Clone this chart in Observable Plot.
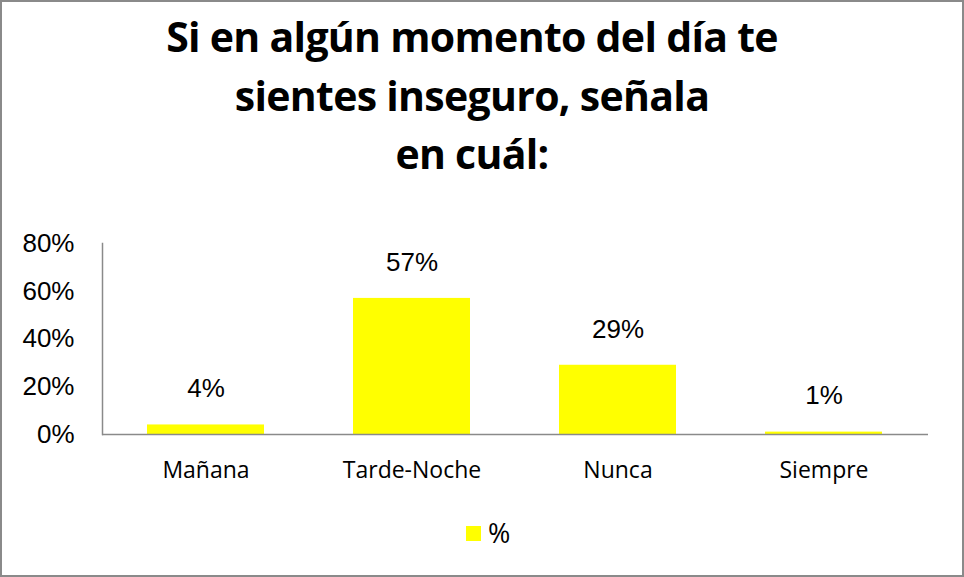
<!DOCTYPE html>
<html>
<head>
<meta charset="utf-8">
<script src="https://cdn.jsdelivr.net/npm/d3@7"></script>
<script src="https://cdn.jsdelivr.net/npm/@observablehq/plot@0.6"></script>
<style>
  html, body { margin: 0; padding: 0; background: #fff; }
  #box {
    position: relative; width: 964px; height: 577px; box-sizing: border-box;
    border: 2px solid #8a8a8a; background: #fff; overflow: hidden;
  }
  #title {
    position: absolute; left: 0; top: 5px; width: 940px;
    text-align: center; font-family: "Open Sans", sans-serif; font-weight: 700;
    font-size: 41px; letter-spacing: -0.7px; line-height: 58.5px; color: #000;
  }
  #chart { position: absolute; left: 0; top: 213px; }
  #legend {
    position: absolute; left: 464px; top: 512px; display: flex; align-items: center;
    font-family: "Open Sans", sans-serif; font-size: 27px; color: #000;
  }
  #legend .sw { width: 15px; height: 15px; background: #FFFF00; margin-right: 7px; margin-top: 2px; }
</style>
</head>
<body>
<div id="box">
  <div id="title">Si en algún momento del día te<br>sientes inseguro, señala<br>en cuál:</div>
  <div id="chart"></div>
  <div id="legend"><div class="sw"></div><span>%</span></div>
</div>
<script>
const categories = ["Mañana", "Tarde-Noche", "Nunca", "Siempre"];
const values = [0.04, 0.57, 0.29, 0.01];
const valueLabels = ["4%", "57%", "29%", "1%"];
const yTicks = [0, 0.2, 0.4, 0.6, 0.8];
const seriesName = "%";

const data = categories.map((c, i) => ({cat: c, value: values[i], label: valueLabels[i]}));

const chart = Plot.plot({
  width: 960,
  height: 280,
  marginTop: 28,
  marginBottom: 61,
  marginLeft: 100,
  marginRight: 34,
  style: {background: "transparent", color: "#000"},
  x: {domain: categories, paddingInner: 0.43, paddingOuter: 0.215, label: null},
  y: {domain: [0, 0.8], label: null},
  marks: [
    Plot.barY(data, {x: "cat", y: "value", fill: "#FFFF00"}),
    Plot.frame({anchor: "left", stroke: "#8a8a8a", strokeWidth: 1.5}),
    Plot.ruleY([0], {stroke: "#8a8a8a", strokeWidth: 1.5}),
    Plot.axisY({ticks: yTicks, tickFormat: d => Math.round(d * 100) + "%", tickSize: 0, tickPadding: 28,
      fontSize: 26, fontFamily: "Liberation Sans, Arial, sans-serif", fill: "#000", label: null}),
    Plot.axisX({tickSize: 0, tickPadding: 27, fontSize: 23, fontFamily: "Open Sans, sans-serif", fill: "#000", label: null}),
    Plot.text(data, {x: "cat", y: "value", text: "label", dy: -36, fontSize: 26,
      fontFamily: "Liberation Sans, Arial, sans-serif", fill: "#000"})
  ]
});
document.getElementById("chart").appendChild(chart);
document.querySelector("#legend span").textContent = seriesName;
</script>
</body>
</html>
